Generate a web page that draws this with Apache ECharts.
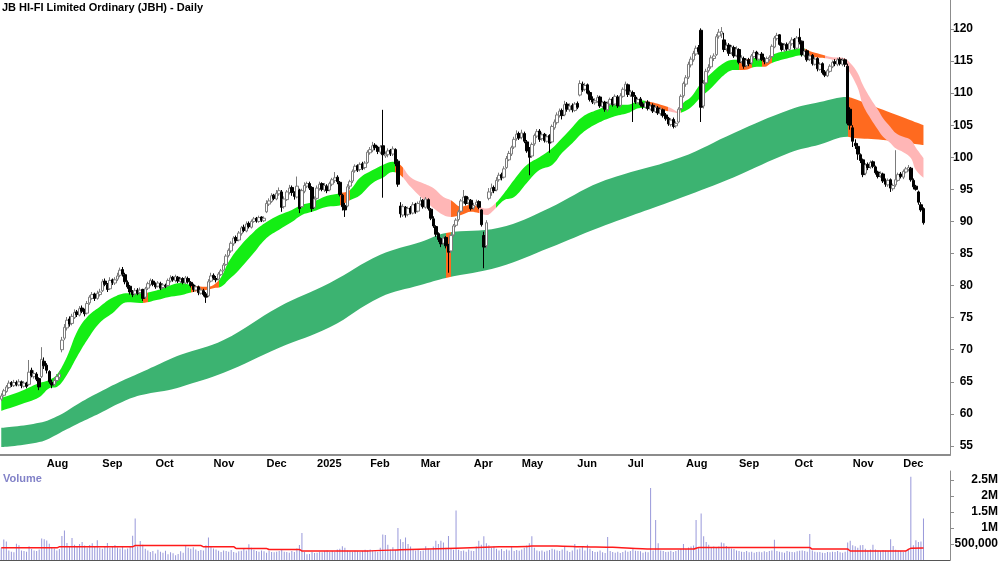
<!DOCTYPE html>
<html>
<head>
<meta charset="utf-8">
<title>JBH Daily</title>
<script src="https://cdn.jsdelivr.net/npm/echarts@6/dist/echarts.min.js"></script>
<style>
html, body { margin: 0; padding: 0; background: #fff; }
#main { width: 1000px; height: 562px; }
</style>
</head>
<body>
<div id="main"></div>
<script>
// ===== 数据 =====
var chartTitle = 'JB HI-FI Limited Ordinary (JBH) - Daily';
var startDate = '2024-07-08';
var slotCount = 376; // 右侧留空
var holidays = ['2024-12-25', '2024-12-26', '2025-01-01', '2025-01-27', '2025-04-18',
  '2025-04-21', '2025-04-25', '2025-06-09', '2025-12-25', '2025-12-26'];
var monthNames = ['Jan', 'Feb', 'Mar', 'Apr', 'May', 'Jun', 'Jul', 'Aug', 'Sep', 'Oct', 'Nov', 'Dec'];

var opens = [
  62.3,62.9,63.5,64.1,64.9,64.4,64.9,64.5,65.0,64.3, 64.8,64.6,66.8,65.8,66.2,65.5,65.8,68.2,67.6,66.6,
  64.9,64.6,65.2,65.7,70.0,71.8,73.4,74.8,74.1,75.0, 75.9,75.4,76.5,76.1,75.7,77.3,78.0,78.7,78.0,78.6,
  79.2,80.7,80.1,79.5,80.9,80.4,81.0,81.6,82.5,81.7, 80.5,79.9,79.1,78.7,79.3,78.9,79.4,78.2,79.6,80.2,
  80.7,80.3,79.9,80.3,79.7,80.0,80.0,80.7,81.3,80.8, 81.3,80.6,81.1,80.4,81.1,80.5,80.1,79.3,79.8,78.8,
  79.2,78.7,78.4,80.7,81.6,81.1,81.0,81.7,82.4,83.3, 84.7,85.4,86.5,87.5,87.1,88.1,89.1,88.5,89.7,89.1,
  90.0,90.5,90.0,90.7,90.1,91.5,92.7,93.1,94.1,93.5, 94.3,94.6,92.3,93.4,94.5,95.3,94.4,93.8,94.9,92.3,
  94.7,95.5,95.9,95.3,92.2,93.6,95.1,95.9,94.9,95.5, 94.9,95.8,96.4,96.9,96.1,94.1,92.5,92.4,95.5,96.3,
  97.9,98.7,98.1,99.0,98.4,99.2,100.7,101.1,101.9,101.6, 100.8,101.8,100.2,100.4,101.1,100.5,101.2,99.4,92.4,91.0,
  92.2,91.1,92.1,91.3,92.7,91.6,92.7,93.3,92.2,93.4, 91.9,90.4,89.2,88.1,87.3,86.6,87.5,86.3,85.4,87.9,
  89.4,90.3,91.6,93.1,93.9,92.9,93.3,92.1,92.6,93.1, 91.8,87.8,86.2,93.6,94.5,95.3,94.9,96.5,97.3,96.9,
  98.4,99.6,100.5,101.6,102.9,103.7,103.1,103.7,102.4,101.2, 100.2,102.1,103.3,104.1,102.9,103.6,102.5,103.4,102.4,104.6,
  105.4,106.5,107.3,106.6,108.3,107.4,108.1,107.3,108.4,109.7, 111.4,110.6,111.3,110.1,109.1,108.5,108.7,109.4,107.9,108.6,
  107.4,108.3,109.1,108.3,109.4,108.1,109.5,110.5,111.3,109.7, 110.1,109.4,108.5,109.1,108.3,107.8,108.6,107.5,108.1,107.1,
  107.7,106.8,107.4,106.6,106.1,105.1,105.9,104.9,105.5,107.6, 109.6,111.4,112.5,114.4,115.2,116.1,117.1,119.8,108.0,111.6,
  113.5,114.1,115.4,116.0,118.9,119.2,118.3,116.9,117.5,116.3, 117.1,115.9,116.8,114.9,115.4,114.3,115.2,114.7,115.7,116.4,
  115.3,116.1,115.3,114.8,115.3,115.7,117.2,118.5,119.1,117.7, 116.7,117.6,116.8,117.7,118.4,117.0,118.7,118.1,115.9,116.6,
  115.3,115.9,114.5,115.4,113.7,114.6,113.3,112.7,113.4,114.1, 114.9,114.5,115.3,114.5,115.2,114.2,107.5,104.6,102.2,101.7,
  100.4,99.6,97.5,98.9,98.5,99.3,98.5,97.7,97.1,97.4, 96.4,95.7,96.5,95.1,95.7,96.4,97.4,96.9,97.7,98.1,
  98.3,96.4,95.5,94.6,92.6,92.0
];
var closes = [
  62.8,63.6,64.2,64.8,64.5,64.9,64.6,65.0,64.4,64.8, 64.3,66.5,66.0,66.3,65.4,64.2,68.5,67.5,66.8,65.0,
  64.5,65.2,65.8,66.2,71.5,73.5,74.6,74.0,75.2,75.8, 75.5,76.4,76.0,75.6,77.2,78.2,78.6,78.0,78.8,79.0,
  80.6,80.2,79.4,80.8,80.5,80.9,81.5,82.4,81.8,80.6, 79.8,79.0,78.6,79.2,78.8,79.3,78.0,79.5,80.3,80.8,
  80.2,79.8,80.4,79.6,80.1,79.9,80.8,81.2,80.9,81.4, 80.7,81.0,80.5,81.2,80.6,80.0,79.4,79.8,78.9,79.3,
  78.6,78.2,80.6,81.5,81.2,80.9,81.8,82.3,83.2,84.6, 85.5,86.6,87.4,87.0,88.2,89.0,88.6,89.6,89.2,90.0,
  90.4,90.1,90.6,90.2,90.5,92.8,93.2,94.0,93.6,94.4, 94.8,92.2,93.5,94.6,95.2,94.5,93.9,95.5,92.0,94.8,
  95.6,95.9,95.2,92.0,93.5,95.2,95.8,95.0,95.6,94.8, 95.9,96.5,96.8,96.2,94.2,92.3,91.8,95.4,96.2,97.8,
  98.6,98.0,98.9,98.3,99.1,100.8,101.2,101.8,101.5,100.9, 101.6,100.4,100.5,101.0,100.6,101.3,99.0,95.8,91.2,92.3,
  91.0,92.0,91.4,92.6,91.5,92.8,93.2,92.3,93.5,92.0, 90.5,89.3,88.0,87.2,86.5,87.4,86.2,85.2,87.8,89.3,
  90.2,91.5,93.2,93.8,92.8,93.4,92.0,92.5,93.0,92.2, 89.5,86.0,89.8,94.6,95.2,94.8,96.4,97.2,96.8,98.2,
  99.8,100.6,101.5,102.8,103.6,103.0,103.8,102.5,101.0,100.0, 102.0,103.4,104.0,102.8,103.5,102.6,103.2,102.2,104.8,105.5,
  106.6,107.2,106.5,108.2,107.5,108.0,107.4,108.3,107.8,111.5, 110.5,111.2,110.0,109.0,108.6,108.8,109.3,108.0,108.5,107.5,
  108.4,109.0,108.2,109.5,108.0,109.6,110.6,111.4,109.8,110.2, 109.5,108.6,109.0,108.2,107.9,108.5,107.6,108.0,107.2,107.8,
  106.9,107.5,106.5,106.0,105.2,105.8,104.8,105.3,107.5,109.5, 111.5,112.4,114.5,115.3,116.2,117.0,116.5,107.8,111.5,113.4,
  114.0,115.5,115.8,118.8,119.5,119.6,116.8,117.4,116.2,117.2, 115.8,116.9,114.8,115.5,114.2,115.1,114.6,115.8,116.3,115.4,
  116.0,115.2,114.9,115.4,115.6,117.3,118.6,119.0,117.6,116.8, 117.5,116.9,117.8,118.3,117.1,118.6,118.0,116.0,116.5,115.2,
  115.8,114.6,115.3,113.8,114.5,113.2,112.8,113.5,114.2,114.8, 114.6,115.2,114.6,115.1,114.5,105.3,105.0,102.5,101.8,100.5,
  99.5,97.3,98.8,98.4,99.2,98.6,97.6,97.0,97.5,96.3, 95.8,96.4,95.2,95.6,96.5,97.3,97.0,97.8,98.2,98.4,
  96.5,95.4,95.0,93.0,91.8,89.8
];
var lows = [
  62.0,62.7,63.3,63.9,64.2,64.2,64.3,64.3,64.0,64.1, 64.0,64.4,65.7,65.5,65.1,63.7,65.6,67.0,66.3,64.7,
  64.0,64.3,64.9,65.4,69.6,71.5,73.0,73.6,73.8,74.8, 75.1,75.2,75.7,75.2,75.5,77.0,77.8,77.6,77.8,78.3,
  79.0,79.9,79.0,79.3,80.1,80.1,80.7,81.3,81.4,80.2, 79.5,78.6,78.2,78.4,78.5,78.6,77.6,77.9,79.3,79.9,
  79.9,79.5,79.7,79.3,79.4,79.6,79.8,80.5,80.6,80.5, 80.4,80.4,80.2,80.2,80.3,79.7,79.0,79.1,78.5,78.6,
  78.3,77.3,78.2,80.5,80.9,80.5,80.8,81.5,82.2,83.1, 84.4,85.1,86.2,86.6,86.9,87.8,88.3,88.3,88.9,88.9,
  89.8,89.8,89.8,89.9,89.9,91.3,92.4,92.9,93.3,93.3, 94.0,91.5,92.0,93.2,94.2,94.0,93.4,93.6,91.3,92.1,
  94.4,95.2,94.9,91.5,92.0,93.4,94.8,94.7,94.6,94.4, 94.7,95.5,96.0,95.8,93.9,91.7,90.7,92.2,95.0,96.0,
  97.6,97.7,97.8,98.0,98.1,99.0,100.4,100.8,101.1,100.5, 100.5,93.7,99.9,100.0,100.2,100.2,98.6,95.4,90.6,90.7,
  90.6,90.8,91.1,91.1,91.2,91.4,92.5,92.0,92.0,91.7, 90.2,89.0,87.6,86.8,86.0,86.3,85.8,82.0,85.1,87.6,
  89.1,90.0,91.4,92.8,92.5,92.6,91.7,91.8,92.3,91.9, 89.2,82.7,85.8,93.3,94.0,94.4,94.7,96.2,96.4,96.7,
  98.2,99.4,100.2,101.3,102.6,102.7,102.8,102.2,100.7,97.2, 99.9,101.8,103.0,102.4,102.6,102.3,102.3,100.7,102.2,104.3,
  105.1,106.2,105.9,106.4,107.1,107.1,107.0,107.1,107.5,109.5, 110.2,110.3,109.8,108.7,108.3,108.2,108.5,107.7,107.7,107.1,
  107.1,108.0,107.9,108.0,107.7,107.8,109.3,110.3,109.4,109.4, 105.5,108.3,108.2,107.9,107.5,107.6,107.3,107.3,106.9,106.9,
  106.6,106.5,106.2,105.7,104.9,104.8,104.5,104.6,105.3,107.3, 109.3,111.0,112.2,114.0,114.9,115.8,116.0,105.5,107.6,111.3,
  113.2,113.8,115.0,115.8,118.5,118.6,116.4,116.5,115.8,116.0, 115.5,115.6,114.5,114.6,113.8,114.0,114.2,114.4,115.4,115.1,
  115.0,115.0,114.5,114.6,115.0,115.5,117.0,118.2,117.4,116.5, 116.4,116.6,116.6,117.4,116.8,116.8,117.6,115.7,115.6,114.9,
  115.0,114.3,114.3,113.4,113.5,112.9,112.5,112.5,113.2,113.9, 114.2,114.2,114.3,114.2,114.1,105.0,104.3,101.6,101.3,99.6,
  99.1,96.9,97.2,98.0,98.2,98.3,97.3,96.7,96.8,96.0, 95.4,95.4,94.6,94.8,95.4,96.2,96.7,96.6,97.5,97.8,
  96.2,95.0,94.8,92.6,91.5,89.5
];
var highs = [
  63.2,63.9,64.5,65.2,65.1,65.3,65.2,65.4,65.2,65.1, 65.0,68.4,67.2,66.8,66.5,65.7,70.4,68.8,67.9,66.8,
  65.3,65.6,66.2,66.6,72.0,74.0,75.1,75.2,75.6,76.3, 76.2,76.8,76.9,76.4,77.6,78.5,79.0,78.9,79.2,79.5,
  81.0,81.1,80.4,81.3,81.1,81.3,82.0,82.8,82.9,82.0, 80.8,80.1,79.3,79.6,79.6,79.7,79.5,79.8,80.6,81.1,
  81.0,80.5,80.7,80.6,80.4,80.3,81.1,81.6,81.5,81.7, 81.5,81.3,81.3,81.5,81.4,80.7,80.3,80.1,80.0,79.6,
  79.5,79.0,81.0,82.0,81.9,81.5,82.1,82.6,83.5,84.9, 85.8,86.9,87.7,87.8,88.5,89.3,89.5,90.0,90.0,90.3,
  90.7,90.7,90.9,90.8,90.8,93.3,93.6,94.4,94.3,94.9, 95.3,94.9,93.9,94.9,95.7,95.6,94.7,97.0,95.1,95.1,
  96.1,96.2,96.2,95.5,93.9,95.6,96.2,96.1,96.0,95.8, 96.2,96.8,97.7,97.2,96.3,94.3,92.9,95.8,96.5,98.1,
  98.9,98.9,99.2,99.3,99.4,101.1,101.6,102.4,102.2,101.8, 101.9,107.4,100.9,101.4,101.3,101.7,101.4,99.7,93.0,92.7,
  92.4,92.3,92.4,93.0,92.9,93.1,93.8,93.5,93.8,93.6, 92.1,90.8,89.4,88.3,87.5,87.8,87.7,86.5,88.0,89.6,
  90.5,91.8,93.5,94.9,94.0,93.8,93.5,92.9,93.4,93.3, 91.9,88.4,90.2,95.2,95.9,95.6,96.9,97.6,97.6,98.6,
  100.2,101.0,101.8,103.2,104.2,104.0,104.3,104.0,102.7,101.6, 102.3,103.7,104.4,104.4,103.9,103.8,103.6,103.6,105.1,105.9,
  107.0,107.6,107.6,108.8,108.6,108.4,108.4,108.6,108.7,112.0, 111.8,111.6,111.5,110.4,109.5,109.2,109.7,109.6,108.8,108.8,
  108.7,109.3,109.4,109.8,109.7,110.0,110.9,111.8,111.5,110.5, 110.4,109.7,109.3,109.4,108.6,108.8,108.9,108.3,108.4,108.1,
  108.0,107.8,107.6,106.9,106.3,106.1,106.2,105.6,107.8,109.8, 111.8,112.8,114.9,115.7,116.6,117.4,117.5,120.1,112.0,113.8,
  114.5,115.9,116.2,119.2,120.0,120.3,119.4,117.9,117.8,117.5, 117.4,117.3,117.0,115.9,115.7,115.4,115.5,116.1,116.7,116.6,
  116.3,116.4,115.6,115.7,115.9,117.6,118.9,119.4,119.2,117.9, 117.8,117.9,118.1,118.7,118.6,118.9,120.1,118.2,116.9,116.8,
  116.2,116.1,115.6,115.6,114.8,114.8,113.6,113.8,114.5,115.1, 115.3,115.5,115.6,115.5,115.4,114.6,107.8,105.0,102.8,102.2,
  100.6,99.8,99.1,99.2,99.5,99.5,98.7,97.9,97.8,97.6, 96.7,96.7,96.7,95.9,101.1,97.6,97.7,98.1,98.5,98.8,
  98.5,96.7,95.7,94.8,93.0,92.2
];
// 成交量（千股）
var volumes = [
  380,640,580,300,260,240,510,460,300,280, 260,430,340,300,280,330,670,650,610,510,
  400,360,300,340,750,920,530,420,690,480, 420,500,560,450,390,470,520,430,620,380,
  350,420,530,380,410,470,390,360,420,330, 360,430,760,1300,420,590,480,350,300,250,
  280,200,320,260,230,290,180,240,210,150, 190,270,230,460,380,350,400,330,280,310,
  300,460,700,420,360,330,290,250,300,280, 260,310,250,230,270,290,340,300,490,380,
  320,280,260,300,270,230,290,250,240,260, 280,320,260,250,230,280,250,360,470,840,
  250,180,190,250,220,230,260,240,280,300, 250,280,260,330,350,430,380,300,270,260,
  290,270,250,280,320,300,330,290,270,260, 380,800,780,480,330,400,310,1000,650,560,
  700,500,420,340,300,330,280,300,430,360, 330,420,600,500,600,550,380,750,350,320,
  1550,320,280,300,260,330,290,280,420,600, 480,740,520,460,380,420,350,300,340,280,
  330,300,420,280,310,290,330,380,450,520, 740,380,300,270,300,260,290,310,350,330,
  300,280,330,410,290,250,300,500,330,360, 420,300,480,350,280,250,260,300,240,220,
  720,280,250,230,260,220,250,300,260,280, 350,290,280,270,230,260,240,2250,300,1250,
  520,300,280,250,260,290,250,280,310,340, 500,340,390,420,450,1250,400,1450,740,560,
  480,400,420,380,420,550,520,440,380,360, 340,300,280,260,250,280,240,260,230,250,
  260,240,270,250,280,300,630,280,260,240, 230,280,260,250,240,270,290,300,280,260,
  810,300,260,240,250,230,220,250,240,260, 250,280,240,230,260,550,600,460,430,380,
  460,470,350,300,330,480,330,300,280,310, 300,290,650,440,320,300,280,250,300,330,
  2600,460,620,560,580,1300
];
// 成交量均线读数（位置索引, 千股）
var volMaIdx = [0, 22, 23, 52, 53, 79, 80, 92, 93, 105, 106, 118, 119, 145, 158, 180, 197, 208, 210, 220, 230, 242, 257, 274, 276, 305, 320, 321, 335, 336, 358, 360, 365];
var volMa = [380, 380, 410, 410, 450, 450, 410, 410, 360, 360, 330, 330, 285, 285, 320, 370, 410, 420, 440, 440, 410, 395, 340, 340, 390, 390, 390, 340, 340, 285, 285, 370, 375];

// 短期带（位置索引, 上沿, 下沿）
var shortIdx = [0,7,15,19,22,26,30,34,39,44, 50,55,62,66,71,76,81,84,87,90, 94,100,105,110,115,119,123,129,134,138,
  142,147,151,155,158,162,166,171,175,178, 182,186,189,192,195,199,203,208,213,218, 222,226,230,236,242,248,253,257,261,265,
  268,270,273,277,281,286,290,294,299,302, 305,312,317,321,325,329,333,336,339,341, 344,347,349,352,354,357,360,362,365];
var shortHi = [62.5,63.4,64.8,65.3,66.1,68.9,72.8,75.1,76.7,78.1, 78.8,78.8,79.3,79.9,80.4,80.0,79.8,80.1,81.3,83.7,
  85.9,88.4,89.9,91.0,91.8,92.6,93.0,94.0,94.4,94.9, 96.8,98.0,98.8,99.3,98.8,96.9,96.1,95.2,93.8,93.3,
  92.3,92.6,92.3,92.0,92.6,94.4,96.5,98.8,100.0,101.4, 103.0,104.7,106.3,107.4,108.2,108.2,108.9,108.6,108.2,107.7,
  107.1,108.5,109.4,111.6,113.1,114.7,115.2,115.2,115.5,115.2, 116.0,116.7,117.0,116.4,116.0,115.6,115.5,114.7,113.1,111.3,
  109.2,107.4,106.1,104.7,103.8,103.2,102.7,101.5,99.9];
var shortLo = [60.5,61.4,62.6,64.0,64.2,66.1,68.9,71.5,74.2,75.7, 77.4,77.3,77.8,78.2,78.5,79.0,79.3,79.6,79.8,80.9,
  82.4,85.1,87.4,88.7,89.9,91.0,91.5,92.3,92.5,93.3, 94.1,96.0,96.8,97.7,97.2,95.4,93.8,92.1,91.0,90.7,
  91.0,91.5,91.3,91.0,91.8,93.3,93.8,96.0,98.0,98.8, 100.7,102.2,103.8,105.3,106.3,106.9,107.7,107.7,107.4,107.1,
  106.9,107.1,107.8,109.4,110.8,112.8,113.6,113.6,114.1,114.1, 114.7,115.5,115.9,115.6,115.5,115.2,114.9,113.1,110.8,108.2,
  106.1,104.3,103.2,102.2,101.4,100.8,99.9,98.0,96.8];
// 长期带
var longIdx = [0, 15, 23, 31, 39, 47, 55, 66, 71, 88, 110, 130, 150, 166, 176, 197, 217, 237, 269, 290, 312, 324, 335, 337, 349, 365];
var longHi = [57.8, 58.6, 59.8, 61.7, 63.4, 65.0, 66.4, 68.4, 69.2, 71.5, 76.7, 80.4, 84.8, 86.8, 88.2, 89.0, 92.1, 96.1, 100.0, 103.8, 107.4, 108.6, 109.4, 109.2, 107.4, 105.0];
var longLo = [54.8, 55.6, 57.0, 58.6, 60.1, 61.7, 62.9, 63.7, 64.2, 66.4, 70.3, 73.5, 78.2, 80.1, 81.2, 82.9, 85.9, 89.1, 93.7, 96.9, 100.7, 102.0, 103.2, 103.0, 102.7, 101.9];
// 趋势状态（起, 止, 状态）
var shortStates = [[0,55,'up'],[56,57,'mix'],[58,74,'up'],[75,85,'mix'],[86,133,'up'],[134,137,'mix'],[138,155,'up'],
  [156,158,'mix'],[159,177,'down'],[178,188,'mix'],[189,195,'down'],[196,254,'up'],[255,263,'mix'],[264,268,'down'],
  [269,291,'up'],[292,296,'mix'],[297,300,'up'],[301,304,'mix'],[305,317,'up'],[318,325,'mix'],[326,375,'down']];
var longStates = [[0,175,'up'],[176,177,'mix'],[178,334,'up'],[335,375,'mix']];

// ===== 图表 =====
(function() {
  var font = "'Liberation Sans Narrow', 'Arial Narrow', 'Liberation Sans', Arial, sans-serif";
  var shortColors = { up: '#14ee14', mix: '#ff6a1f', down: '#ffb6b6' };
  var longColors = { up: '#3cb371', mix: '#ff6a1f' };

  // 交易日
  var dates = [];
  var d = new Date(startDate + 'T00:00:00Z');
  while (dates.length < slotCount) {
    var s = d.toISOString().slice(0, 10);
    var wd = d.getUTCDay();
    if (wd !== 0 && wd !== 6 && holidays.indexOf(s) < 0) dates.push(s);
    d.setUTCDate(d.getUTCDate() + 1);
  }
  function monthStart(index) {
    return index > 0 && dates[index].slice(0, 7) !== dates[index - 1].slice(0, 7);
  }

  var candles = closes.map(function(c, i) { return [opens[i], c, lows[i], highs[i]]; });
  function pairs(idx, vals) { return idx.map(function(x, k) { return [x, vals[k]]; }); }
  function widths(idx, hi, lo) { return idx.map(function(x, k) { return [x, +(hi[k] - lo[k]).toFixed(2)]; }); }
  function pieces(states, colors) {
    return states.map(function(st) { return { gte: st[0] - 0.5, lt: st[1] + 0.5, color: colors[st[2]] }; });
  }

  var myChart = echarts.init(document.getElementById('main'));
  var option = {
    animation: false,
    backgroundColor: '#fff',
    title: [{
      text: chartTitle, left: 2, top: 2, padding: 0,
      textStyle: { fontSize: 11, fontWeight: 'bold', color: '#000', fontFamily: font }
    }, {
      text: 'Volume', left: 3, top: 473, padding: 0,
      textStyle: { fontSize: 11, fontWeight: 'bold', color: '#8282c8', fontFamily: font }
    }],
    grid: [
      { left: 0, right: 50, top: 0, height: 455, outerBoundsMode: 'none', containLabel: false },
      { left: 0, right: 50, top: 471, height: 89, outerBoundsMode: 'none', containLabel: false }
    ],
    visualMap: [
      { type: 'piecewise', show: false, seriesIndex: 1, dimension: 0, pieces: pieces(longStates, longColors) },
      { type: 'piecewise', show: false, seriesIndex: 3, dimension: 0, pieces: pieces(shortStates, shortColors) }
    ],
    xAxis: [{
      type: 'category', gridIndex: 0, data: dates, boundaryGap: true,
      axisLine: { lineStyle: { color: '#8c8c8c', width: 2 } },
      axisTick: { interval: monthStart, length: 4, lineStyle: { color: '#666' } },
      axisLabel: {
        interval: monthStart, align: 'left', margin: 3,
        color: '#000', fontWeight: 'bold', fontSize: 11, fontFamily: font,
        formatter: function(v) {
          var m = +v.slice(5, 7);
          return m === 1 ? v.slice(0, 4) : monthNames[m - 1];
        }
      },
      splitLine: { show: false }
    }, {
      type: 'category', gridIndex: 1, data: dates, boundaryGap: true, position: 'top',
      axisLine: { lineStyle: { color: '#555', width: 1 } },
      axisTick: { show: false }, axisLabel: { show: false }, splitLine: { show: false }
    }],
    yAxis: [{
      type: 'value', gridIndex: 0, position: 'right',
      min: 53.59, max: 124.52, splitNumber: 14, minInterval: 5, maxInterval: 5,
      axisLine: { show: true, lineStyle: { color: '#8c8c8c' } },
      axisTick: { show: true, length: 4, lineStyle: { color: '#8c8c8c' } },
      splitLine: { show: false },
      axisLabel: {
        showMinLabel: false, showMaxLabel: false, align: 'right', margin: 23,
        color: '#000', fontWeight: 'bold', fontSize: 12, fontFamily: font
      }
    }, {
      type: 'value', gridIndex: 1, position: 'right',
      min: 0, max: 2780000, interval: 500000,
      axisLine: { show: true, lineStyle: { color: '#8c8c8c' } },
      axisTick: { show: true, length: 4, lineStyle: { color: '#8c8c8c' } },
      splitLine: { show: false },
      axisLabel: {
        showMinLabel: false, showMaxLabel: false, align: 'right', margin: 48,
        color: '#000', fontWeight: 'bold', fontSize: 12, fontFamily: font,
        formatter: function(v) {
          if (v === 0) return '';
          if (v < 1000000) return echarts.format.addCommas(v);
          return (v / 1000000) + 'M';
        }
      }
    }],
    series: [
      // 长期带
      { type: 'line', xAxisIndex: 0, yAxisIndex: 0, stack: 'long', data: pairs(longIdx, longLo),
        smooth: 0.4, symbol: 'none', lineStyle: { opacity: 0 }, silent: true, z: 1 },
      { type: 'line', xAxisIndex: 0, yAxisIndex: 0, stack: 'long', data: widths(longIdx, longHi, longLo),
        smooth: 0.4, symbol: 'none', lineStyle: { width: 0 }, areaStyle: { opacity: 1 }, silent: true, z: 1 },
      // 短期带
      { type: 'line', xAxisIndex: 0, yAxisIndex: 0, stack: 'short', data: pairs(shortIdx, shortLo),
        smooth: 0.4, symbol: 'none', lineStyle: { opacity: 0 }, silent: true, z: 2 },
      { type: 'line', xAxisIndex: 0, yAxisIndex: 0, stack: 'short', data: widths(shortIdx, shortHi, shortLo),
        smooth: 0.4, symbol: 'none', lineStyle: { width: 0 }, areaStyle: { opacity: 1 }, silent: true, z: 2 },
      // K线
      { type: 'candlestick', xAxisIndex: 0, yAxisIndex: 0, data: candles, barWidth: 3, z: 5,
        itemStyle: { color: '#ffffff', color0: '#000000', borderColor: '#7c7c7c', borderColor0: '#000000', borderWidth: 1 } },
      // 成交量
      { type: 'bar', xAxisIndex: 1, yAxisIndex: 1, barWidth: 1,
        data: volumes.map(function(v) { return v * 1000; }),
        itemStyle: { color: '#9898da' } },
      { type: 'line', xAxisIndex: 1, yAxisIndex: 1, symbol: 'none', smooth: 0.2,
        data: volMaIdx.map(function(x, k) { return [x, volMa[k] * 1000]; }),
        lineStyle: { color: '#ff1a1a', width: 1.5 }, z: 3 }
    ]
  };
  myChart.setOption(option);
  window.addEventListener('resize', function() {
    myChart.resize();
  });
})();
</script>
</body>
</html>
